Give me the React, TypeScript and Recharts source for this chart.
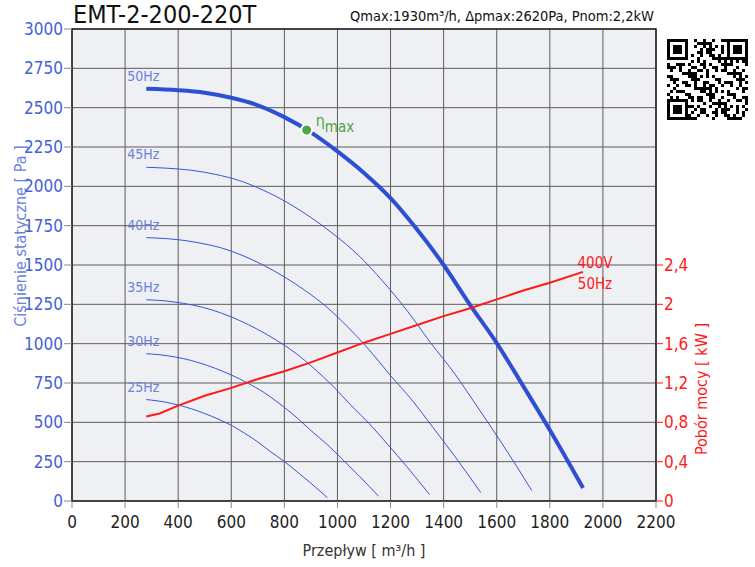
import React from "react";
import {
  CartesianGrid,
  ComposedChart,
  Label,
  Line,
  ReferenceArea,
  ReferenceDot,
  XAxis,
  YAxis,
} from "recharts";

const FONT = "'Liberation Sans Narrow', 'DejaVu Sans Condensed', Roboto, sans-serif";

const AIRFLOW_TICKS = [0, 200, 400, 600, 800, 1000, 1200, 1400, 1600, 1800, 2000, 2200];
const PRESSURE_TICKS = [0, 250, 500, 750, 1000, 1250, 1500, 1750, 2000, 2250, 2500, 2750, 3000];
const POWER_TICKS = [0, 0.4, 0.8, 1.2, 1.6, 2, 2.4];

// fan curves: airflow [m3/h] vs static pressure [Pa]
const q50 = [280, 400, 500, 600, 700, 800, 900, 1000, 1100, 1200, 1300, 1400, 1500, 1600, 1700, 1800, 1925];
const p50 = [2620, 2611, 2595, 2563, 2515, 2440, 2343, 2222, 2085, 1925, 1725, 1500, 1245, 1004, 730, 451, 83];

const q45 = [280, 360, 450, 540, 630, 720, 810, 900, 990, 1080, 1170, 1260, 1350, 1440, 1530, 1620, 1732];
const p45 = [2121, 2115, 2102, 2076, 2037, 1976, 1898, 1802, 1690, 1560, 1398, 1215, 1008, 813, 591, 365, 67];

const q40 = [280, 320, 400, 480, 560, 640, 720, 800, 880, 960, 1040, 1120, 1200, 1280, 1360, 1440, 1540];
const p40 = [1674, 1671, 1661, 1640, 1610, 1562, 1500, 1424, 1336, 1232, 1104, 960, 797, 643, 467, 289, 53];

const q35 = [280, 350, 420, 490, 560, 630, 700, 770, 840, 910, 980, 1050, 1120, 1190, 1260, 1347];
const p35 = [1279, 1272, 1256, 1232, 1196, 1148, 1090, 1022, 943, 845, 735, 610, 492, 358, 221, 41];

const q30 = [280, 300, 360, 420, 480, 540, 600, 660, 720, 780, 840, 900, 960, 1020, 1080, 1155];
const p30 = [936, 934, 923, 905, 878, 843, 801, 751, 693, 621, 540, 448, 361, 263, 162, 30];

const q25 = [280, 300, 350, 400, 450, 500, 550, 600, 650, 700, 750, 800, 850, 900, 962];
const p25 = [645, 641, 629, 610, 586, 556, 521, 481, 431, 375, 311, 251, 183, 113, 21];

// power consumption [kW]
const qKw = [280, 330, 400, 500, 600, 700, 800, 900, 1000, 1100, 1200, 1300, 1400, 1500, 1600, 1700, 1800, 1925];
const kw = [0.86, 0.89, 0.97, 1.07, 1.15, 1.24, 1.32, 1.41, 1.51, 1.61, 1.7, 1.79, 1.88, 1.96, 2.05, 2.14, 2.22, 2.33];

const ETA_MAX = { q: 884, p: 2358 };

const BLUE = "#3556d6";
const BLUE_TICK = "#4561d9";
const BLUE_LABEL = "#6b81dd";
const RED = "#ff1a1a";
const GREEN = "#4fa64a";

function zip(q: number[], v: number[], key: string) {
  return q.map((x, i) => ({ q: x, [key]: v[i] }));
}

const curves = [
  { name: "50Hz", data: zip(q50, p50, "p"), width: 4 },
  { name: "45Hz", data: zip(q45, p45, "p"), width: 1 },
  { name: "40Hz", data: zip(q40, p40, "p"), width: 1 },
  { name: "35Hz", data: zip(q35, p35, "p"), width: 1 },
  { name: "30Hz", data: zip(q30, p30, "p"), width: 1 },
  { name: "25Hz", data: zip(q25, p25, "p"), width: 1 },
];
const powerData = zip(qKw, kw, "kw");

const hzLabel = (text: string) => (props: any) => {
  if (props.index !== 0) return <g />;
  return (
    <text
      x={props.x - 3}
      y={props.y - 13}
      textAnchor="middle"
      dominantBaseline="central"
      fontSize={14}
      fill={BLUE_LABEL}
      fontFamily={FONT}
    >
      {text}
    </text>
  );
};

const powerLabel = (props: any) => {
  if (props.index !== qKw.length - 1) return <g />;
  return (
    <text x={props.x + 12} textAnchor="middle" fontSize={15} fill={RED} fontFamily={FONT}>
      <tspan x={props.x + 12} y={props.y - 4}>400V</tspan>
      <tspan x={props.x + 12} y={props.y + 17}>50Hz</tspan>
    </text>
  );
};

const etaLabel = (props: any) => {
  const vb = props.viewBox ?? {};
  const cx = vb.cx ?? (vb.x != null ? vb.x + (vb.width ?? 0) / 2 : undefined);
  const cy = vb.cy ?? (vb.y != null ? vb.y + (vb.height ?? 0) / 2 : undefined);
  if (cx == null || cy == null) return null;
  return (
    <text x={cx + 9} y={cy - 4} fontSize={16} fill={GREEN} fontFamily={FONT}>
      η
      <tspan dy={6} fontSize={15}>max</tspan>
    </text>
  );
};

const axisText = (text: string, x: number, y: number, fill: string, angle: number) => () => (
  <text
    x={x}
    y={y}
    transform={angle ? `rotate(${angle} ${x} ${y})` : undefined}
    textAnchor="middle"
    dominantBaseline="central"
    fontSize={16}
    fill={fill}
    fontFamily={FONT}
  >
    {text}
  </text>
);

// decorative QR-like block
const QR_SIZE = 27;
function qrOn(r: number, c: number) {
  const finder = (r0: number, c0: number) => {
    const dr = r - r0;
    const dc = c - c0;
    if (dr < 0 || dc < 0 || dr > 6 || dc > 6) return null;
    if (dr === 0 || dr === 6 || dc === 0 || dc === 6) return true;
    if (dr >= 2 && dr <= 4 && dc >= 2 && dc <= 4) return true;
    return false;
  };
  for (const [r0, c0] of [[0, 0], [0, QR_SIZE - 7], [QR_SIZE - 7, 0]]) {
    const f = finder(r0, c0);
    if (f !== null) return f;
  }
  if ((r === 7 && c < 8) || (c === 7 && r < 8)) return false;
  return ((r * 7 + c * 11 + ((r * c) % 5)) % 3) === 0 || ((r + c * 3) % 7) === 1;
}

function QrBlock() {
  const cells = [];
  const m = 3;
  for (let r = 0; r < QR_SIZE; r++) {
    for (let c = 0; c < QR_SIZE; c++) {
      if (qrOn(r, c)) cells.push(<rect key={`${r}-${c}`} x={c * m} y={r * m} width={m} height={m} fill="#000" />);
    }
  }
  return (
    <svg width={81} height={81} style={{ position: "absolute", left: 667, top: 39 }}>
      {cells}
    </svg>
  );
}

export default function App() {
  return (
    <div style={{ position: "absolute", left: 0, top: 0, width: 755, height: 567, background: "#fff", fontFamily: FONT }}>
      <div style={{ position: "absolute", left: 73, top: 0, fontSize: 25, lineHeight: "30px", color: "#111", fontWeight: 500 }}>
        EMT-2-200-220T
      </div>
      <div style={{ position: "absolute", right: 101, top: 8, fontSize: 14.5, lineHeight: "16px", color: "#111" }}>
        Qmax:1930m³/h, Δpmax:2620Pa, Pnom:2,2kW
      </div>
      <QrBlock />
      <ComposedChart width={755} height={567} margin={{ top: 29, right: 0, bottom: 0, left: 0 }}>
        <CartesianGrid yAxisId="p" fill="#eef0f3" stroke="#5d5d5d" strokeWidth={1} />
        <XAxis
          dataKey="q"
          type="number"
          domain={[0, 2200]}
          ticks={AIRFLOW_TICKS}
          allowDuplicatedCategory={false}
          height={66}
          tickSize={7}
          tickMargin={8}
          tick={{ fill: "#222", fontSize: 17, fontFamily: FONT }}
          tickLine={{ stroke: "#888" }}
          axisLine={false}
        >
          <Label content={axisText("Przepływ [ m³/h ]", 364, 550, "#333", 0)} />
        </XAxis>
        <YAxis
          yAxisId="p"
          type="number"
          domain={[0, 3000]}
          ticks={PRESSURE_TICKS}
          width={72}
          tickSize={8}
          tickMargin={1}
          tick={{ fill: BLUE_TICK, fontSize: 17, fontFamily: FONT }}
          tickLine={{ stroke: "#888" }}
          axisLine={false}
        >
          <Label content={axisText("Ciśnienie statyczne [ Pa ]", 20, 236, BLUE_LABEL, -90)} />
        </YAxis>
        <YAxis
          yAxisId="kw"
          orientation="right"
          type="number"
          domain={[0, 4.8]}
          ticks={POWER_TICKS}
          width={99}
          tickSize={7}
          tickMargin={1}
          tickFormatter={(v: number) => String(v).replace(".", ",")}
          tick={{ fill: RED, fontSize: 17, fontFamily: FONT }}
          tickLine={{ stroke: RED }}
          axisLine={false}
        >
          <Label content={axisText("Pobór mocy [ kW ]", 701, 389, RED, -90)} />
        </YAxis>

        {curves.map((c) => (
          <Line
            key={c.name}
            yAxisId="p"
            data={c.data}
            dataKey="p"
            type="monotone"
            stroke={c.width > 1 ? "#2d4fd4" : BLUE}
            strokeWidth={c.width}
            dot={false}
            activeDot={false}
            isAnimationActive={false}
            label={hzLabel(c.name)}
          />
        ))}
        <Line
          yAxisId="kw"
          data={powerData}
          dataKey="kw"
          type="linear"
          stroke={RED}
          strokeWidth={2}
          dot={false}
          activeDot={false}
          isAnimationActive={false}
          label={powerLabel}
        />
        <ReferenceArea
          yAxisId="p"
          x1={0}
          x2={2200}
          y1={0}
          y2={3000}
          fill="none"
          fillOpacity={0}
          stroke="#222"
          strokeWidth={1.5}
          ifOverflow="visible"
        />
        <ReferenceDot
          yAxisId="p"
          x={ETA_MAX.q}
          y={ETA_MAX.p}
          r={5.5}
          fill={GREEN}
          stroke="#fff"
          strokeWidth={2}
          label={etaLabel as any}
        />
      </ComposedChart>
    </div>
  );
}
